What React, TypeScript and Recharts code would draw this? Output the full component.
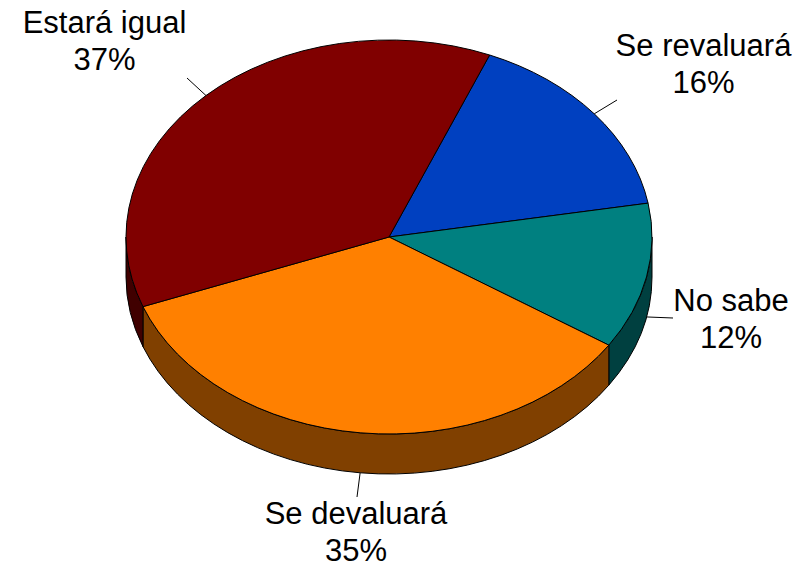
import { PieChart, Pie } from "recharts";

const categories = ["Se revaluará", "No sabe", "Se devaluará", "Estará igual"];
const shares = [16, 12, 35, 37];
const topColors = ["#0040c0", "#008080", "#ff8000", "#800000"];
const sideColors = ["#002060", "#004040", "#804000", "#400000"];

const data = categories.map((name, i) => ({
  name,
  value: shares[i],
  top: topColors[i],
  side: sideColors[i],
}));

// the 3d look: pie radius is the x radius, y gets squashed
const CX = 389;
const CY = 237;
const RX = 263;
const RY = 197;
const DEPTH = 40;
const FONT_SIZE = 31;
const START = 67.5;

// where each label's text sits (center x, first baseline, leader end)
const labelSpots = [
  { x: 703.5, y: 56, lx: 617, ly: 100 },
  { x: 731, y: 311, lx: 673, ly: 318 },
  { x: 356, y: 524, lx: 357, ly: 497 },
  { x: 104.5, y: 33, lx: 187, ly: 78 },
];

const pt = (deg: number, dy = 0) => {
  const a = (deg * Math.PI) / 180;
  return { x: CX + RX * Math.cos(a), y: CY - RY * Math.sin(a) + dy };
};

function TopSlice(props: any) {
  const { startAngle, endAngle, payload } = props;
  const a = pt(startAngle);
  const b = pt(endAngle);
  const large = Math.abs(startAngle - endAngle) > 180 ? 1 : 0;
  const d = `M${CX},${CY} L${a.x},${a.y} A${RX},${RY} 0 ${large} 1 ${b.x},${b.y} Z`;
  return <path d={d} fill={payload.top} stroke="#000" strokeWidth={1} strokeLinejoin="round" />;
}

function SideWall(props: any) {
  const { startAngle, endAngle, payload } = props;
  // only the front half of the rim is visible
  const hi = Math.min(startAngle, 0);
  const lo = Math.max(endAngle, -180);
  if (hi <= lo) return <g />;
  const a = pt(hi);
  const b = pt(lo);
  const c = pt(lo, DEPTH);
  const e = pt(hi, DEPTH);
  const d = `M${a.x},${a.y} A${RX},${RY} 0 0 1 ${b.x},${b.y} L${c.x},${c.y} A${RX},${RY} 0 0 0 ${e.x},${e.y} Z`;
  return <path d={d} fill={payload.side} stroke="#000" strokeWidth={1} strokeLinejoin="round" />;
}

function SliceLabel(props: any) {
  const { midAngle, name, value, index } = props;
  const spot = labelSpots[index];
  const front = Math.sin((midAngle * Math.PI) / 180) < 0;
  const from = pt(midAngle, front ? DEPTH : 0);
  return (
    <g>
      <line x1={from.x} y1={from.y} x2={spot.lx} y2={spot.ly} stroke="#000" strokeWidth={1} />
      <text x={spot.x} y={spot.y} textAnchor="middle" fontSize={FONT_SIZE} fill="#000" fontFamily="'Liberation Sans', Arial, sans-serif">
        {name}
      </text>
      <text x={spot.x} y={spot.y + 37} textAnchor="middle" fontSize={FONT_SIZE} fill="#000" fontFamily="'Liberation Sans', Arial, sans-serif">
        {`${value}%`}
      </text>
    </g>
  );
}

export default function App() {
  return (
    <div style={{ position: "absolute", left: 0, top: 0, width: 797, height: 568, background: "#fff" }}>
      <PieChart width={797} height={568} margin={{ top: 0, right: 0, bottom: 0, left: 0 }}>
        <Pie
          data={data}
          dataKey="value"
          nameKey="name"
          cx={CX}
          cy={CY}
          outerRadius={RX}
          startAngle={START}
          endAngle={START - 360}
          paddingAngle={0}
          shape={SideWall}
          label={false}
          labelLine={false}
          isAnimationActive={false}
        />
        <Pie
          data={data}
          dataKey="value"
          nameKey="name"
          cx={CX}
          cy={CY}
          outerRadius={RX}
          startAngle={START}
          endAngle={START - 360}
          paddingAngle={0}
          shape={TopSlice}
          label={SliceLabel}
          labelLine={false}
          isAnimationActive={false}
        />
      </PieChart>
    </div>
  );
}
